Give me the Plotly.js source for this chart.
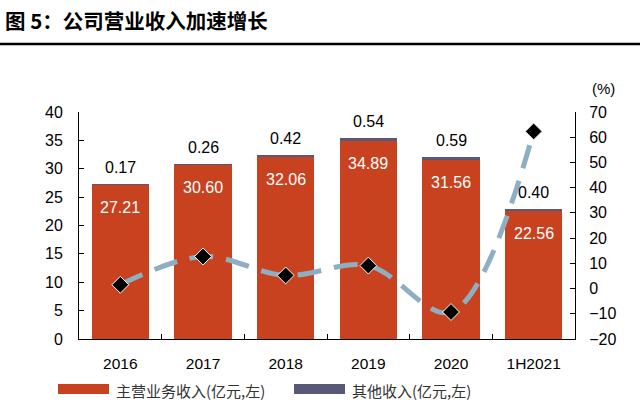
<!DOCTYPE html>
<html><head><meta charset="utf-8">
<script src="https://cdn.plot.ly/plotly-3.0.1.min.js"></script>
<style>html,body{margin:0;padding:0;background:#fff}#c{width:640px;height:404px}</style>
</head><body><div id="c"></div>
<script>
const categories = ['2016','2017','2018','2019','2020','1H2021'];
const mainRevenue = [27.21, 30.60, 32.06, 34.89, 31.56, 22.56];
const otherRevenue = [0.17, 0.26, 0.42, 0.54, 0.59, 0.40];
const growthRate = [1.5, 12.7, 5.2, 9.1, -9.3, 62.3];
const mainLabel = '主营业务收入(亿元,左)';
const otherLabel = '其他收入(亿元,左)';
const growthLabel = '营业收入同比增速(%,右)';

const totals = mainRevenue.map((v,i)=>v+otherRevenue[i]);
const fontNum = 'Liberation Sans, Arial, sans-serif';
const cjk = 'Noto Sans CJK SC';

const traces = [
  {type:'bar', name:mainLabel, x:categories, y:mainRevenue, marker:{color:'#C8421F'}, hoverinfo:'none'},
  {type:'bar', name:otherLabel, x:categories, y:otherRevenue, marker:{color:'#585878'}, hoverinfo:'none'},
  {type:'scatter', mode:'lines+markers', name:growthLabel, x:categories, y:growthRate, yaxis:'y2',
   line:{color:'#8EAFC2', width:5, shape:'spline', dash:'24px,13px'},
   marker:{symbol:'diamond', size:13, color:'#000', line:{color:'#fff', width:1}}, hoverinfo:'none'}
];

const annotations = [];
categories.forEach((c,i)=>{
  // category axes take the index as position for annotations
  annotations.push({x:i, y:mainRevenue[i], xref:'x', yref:'y', text:mainRevenue[i].toFixed(2),
    showarrow:false, yanchor:'top', yshift:-12, font:{family:fontNum, size:16, color:'#fff'}});
  annotations.push({x:i, y:totals[i], xref:'x', yref:'y', text:otherRevenue[i].toFixed(2),
    showarrow:false, yanchor:'bottom', yshift:6, font:{family:fontNum, size:16, color:'#000'}});
});
const plotTop = 112, plotH = 227, plotL = 79, plotW = 496;
const px2x = p => (p-plotL)/plotW;
const py2y = p => 1 - (p-plotTop)/plotH;
annotations.push({xref:'paper', yref:'paper', x:px2x(603), y:py2y(88), text:'(%)', showarrow:false,
  xanchor:'center', yanchor:'middle', font:{family:fontNum, size:15, color:'#000'}});
annotations.push({xref:'paper', yref:'paper', x:px2x(3), y:py2y(20), text:'<b>图 5：公司营业收入加速增长</b>', showarrow:false,
  xanchor:'left', yanchor:'middle', font:{family:cjk, size:20.5, color:'#000'}});
annotations.push({xref:'paper', yref:'paper', x:px2x(114), y:py2y(390), text:mainLabel, showarrow:false,
  xanchor:'left', yanchor:'middle', font:{family:cjk, size:15, color:'#333'}});
annotations.push({xref:'paper', yref:'paper', x:px2x(350), y:py2y(390), text:otherLabel, showarrow:false,
  xanchor:'left', yanchor:'middle', font:{family:cjk, size:15, color:'#333'}});

const shapes = [
  {type:'line', xref:'paper', yref:'paper', x0:px2x(0), x1:px2x(640), y0:py2y(44), y1:py2y(44),
   line:{color:'#000', width:2.5}},
  {type:'rect', xref:'paper', yref:'paper', x0:px2x(58), x1:px2x(109), y0:py2y(384), y1:py2y(394), line:{width:0}, fillcolor:'#C8421F'},
  {type:'rect', xref:'paper', yref:'paper', x0:px2x(294), x1:px2x(345), y0:py2y(384), y1:py2y(394), line:{width:0}, fillcolor:'#585878'}
];

const layout = {
  width:640, height:404,
  margin:{l:plotL, r:640-plotL-plotW, t:plotTop, b:404-plotTop-plotH},
  paper_bgcolor:'#fff', plot_bgcolor:'#fff',
  barmode:'stack', bargap:0.31,
  showlegend:false,
  font:{family:fontNum, size:15, color:'#000'},
  xaxis:{type:'category', range:[-0.5,5.5], showline:true, linecolor:'#000', linewidth:1, ticks:'inside', ticklen:5,
    tickson:'boundaries', tickcolor:'#000', tickfont:{size:15.5}, ticklabelstandoff:10, showgrid:false, zeroline:false},
  yaxis:{range:[0,40], dtick:5, showline:true, linecolor:'#000', linewidth:1, ticks:'inside', ticklen:5,
    tickcolor:'#000', showgrid:false, zeroline:false, tickfont:{size:16}, ticklabelstandoff:12},
  yaxis2:{range:[-20,70], dtick:10, overlaying:'y', side:'right', showline:true, linecolor:'#000', linewidth:1,
    ticks:'inside', ticklen:5, tickcolor:'#000', showgrid:false, zeroline:false, tickfont:{size:16}, ticklabelstandoff:10},
  annotations, shapes
};
Plotly.newPlot('c', traces, layout, {staticPlot:true, displayModeBar:false});
</script></body></html>
